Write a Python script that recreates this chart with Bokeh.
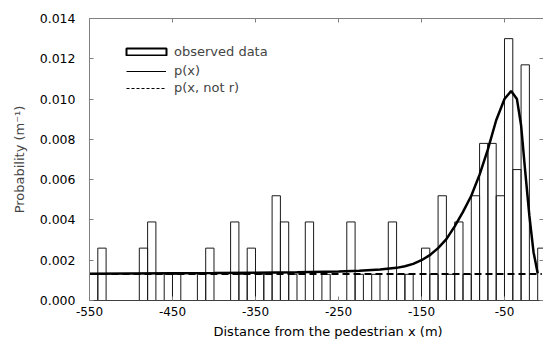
from bokeh.plotting import figure
from bokeh.models import (Legend, LegendItem, LinearAxis, FixedTicker,
                          PrintfTickFormatter, Range1d, ColumnDataSource, Title)
from bokeh.embed import file_html
from bokeh.resources import INLINE

# ---- data -----------------------------------------------------------
bin_width = 10
bin_left = list(range(-550, 0, bin_width))          # 55 bins of 10 m
observed = [0.0013, 0.0026, 0, 0, 0, 0, 0.0026, 0.0039, 0, 0.0013,
            0.0013, 0, 0, 0.0013, 0.0026, 0, 0, 0.0039, 0.0013, 0.0026,
            0.0013, 0.0013, 0.0052, 0.0039, 0.0013, 0, 0.0039, 0, 0.0013, 0,
            0, 0.0039, 0.0013, 0, 0.0013, 0, 0.0039, 0.0013, 0.0013, 0,
            0.0026, 0.0013, 0.0052, 0.0013, 0.0039, 0.0013, 0.0052, 0.0078, 0.0078, 0.0052,
            0.0130, 0.0065, 0.0117, 0, 0.0026]

px_x = [-550, -500, -450, -400, -350, -300, -250, -225, -200, -180, -170,
        -160, -150, -140, -130, -120, -110, -100, -90, -80, -70, -60,
        -50, -42, -35, -30, -25, -20, -15, -10]
px_y = [0.00133, 0.00134, 0.00135, 0.00136, 0.00138, 0.00140, 0.00144,
        0.00148, 0.00154, 0.00162, 0.00170, 0.00182, 0.00200, 0.00225,
        0.00260, 0.00305, 0.00368, 0.00440, 0.00520, 0.00625, 0.00750,
        0.00895, 0.01000, 0.01040, 0.01000, 0.00870, 0.00640, 0.00420,
        0.00240, 0.00135]

notr_x = [-550, -5]
notr_y = [0.00132, 0.00132]

x_ticks = [-550, -450, -350, -250, -150, -50]
y_ticks = [0.0, 0.002, 0.004, 0.006, 0.008, 0.010, 0.012, 0.014]

# ---- figure ---------------------------------------------------------
FONT = "DejaVu Sans"
GRAY = "#808080"
p = figure(width=543, height=345, x_range=Range1d(-550, -3),
           y_range=Range1d(0, 0.014), output_backend="svg",
           toolbar_location=None, min_border_left=89, min_border_top=18,
           min_border_right=0, min_border_bottom=45)
p.outline_line_color = None
p.xgrid.visible = False
p.ygrid.visible = False
p.background_fill_color = "white"

src = ColumnDataSource(dict(left=bin_left,
                            right=[b + bin_width for b in bin_left],
                            top=observed,
                            bottom=[0] * len(observed)))
p.quad(left="left", right="right", top="top", bottom="bottom", source=src,
       fill_color=None, line_color="#1a1a1a", line_width=1)

px_src = ColumnDataSource(dict(x=px_x, y=px_y))
notr_src = ColumnDataSource(dict(x=notr_x, y=notr_y))
p.line("x", "y", source=px_src, line_color="black", line_width=2.5)
p.line("x", "y", source=notr_src, line_color="black", line_width=2,
       line_dash="7 4")

# axes
xa = p.xaxis[0]
xa.ticker = FixedTicker(ticks=x_ticks)
xa.formatter = PrintfTickFormatter(format="%d")
xa.major_label_text_font = FONT
xa.major_label_text_font_size = "12px"
xa.major_label_standoff = 6
xa.major_tick_in = 4
xa.major_tick_out = 0
xa.minor_tick_in = 0
xa.minor_tick_out = 0
xa.axis_line_color = "#404040"
xa.major_tick_line_color = GRAY
xa.major_label_text_color = "black"

x_title = Title(text="Distance from the pedestrian x (m)", align="left",
                offset=124, text_font=FONT, text_font_size="13px",
                text_font_style="normal", text_color="black", standoff=7)
p.add_layout(x_title, "below")

ya = p.yaxis[0]
ya.ticker = FixedTicker(ticks=y_ticks)
ya.formatter = PrintfTickFormatter(format="%.3f")
ya.axis_label = "Probability (m\u207b\u00b9)"
ya.axis_label_text_font = FONT
ya.axis_label_text_font_size = "13px"
ya.axis_label_text_font_style = "normal"
ya.axis_label_standoff = 10
ya.major_label_text_font = FONT
ya.major_label_text_font_size = "12.5px"
ya.major_label_standoff = 14
ya.major_tick_in = 4
ya.major_tick_out = 0
ya.minor_tick_in = 0
ya.minor_tick_out = 0
ya.axis_line_color = GRAY
ya.major_tick_line_color = GRAY
ya.major_label_text_color = "black"

# top frame line with inward ticks (minor ticks only -> no labels)
top_axis = LinearAxis(ticker=FixedTicker(ticks=[], minor_ticks=x_ticks),
                      major_tick_in=0, major_tick_out=0,
                      minor_tick_in=4, minor_tick_out=0,
                      axis_line_color=GRAY, minor_tick_line_color=GRAY,
                      major_label_standoff=0)
p.add_layout(top_axis, "above")

# right side inward ticks (frame edge is cut off at the window edge)
right_axis = LinearAxis(ticker=FixedTicker(ticks=[], minor_ticks=y_ticks),
                        major_tick_in=0, major_tick_out=0,
                        minor_tick_in=4, minor_tick_out=0,
                        axis_line_color=None, minor_tick_line_color=GRAY,
                        major_label_standoff=0)
p.add_layout(right_axis, "right")

# legend-only renderers (hidden) so legend glyphs are thin like the original
box_r = p.quad(left="left", right="right", top="top", bottom="bottom",
               source=src, fill_color=None, line_color="black",
               line_width=2, visible=False)
line_r = p.line("x", "y", source=px_src, line_color="black", line_width=1,
                visible=False)
dash_r = p.line("x", "y", source=notr_src, line_color="black", line_width=1,
                line_dash="3 2", visible=False)

leg1 = Legend(items=[LegendItem(label="observed data", renderers=[box_r])],
              location=(32, 241), glyph_width=50, glyph_height=9,
              label_standoff=3, padding=0, margin=0, spacing=0,
              border_line_color=None, background_fill_alpha=0,
              label_text_font=FONT, label_text_font_size="13px",
              label_height=9)
leg2 = Legend(items=[LegendItem(label="p(x)", renderers=[line_r]),
                     LegendItem(label="p(x, not r)", renderers=[dash_r])],
              location=(37, 205), glyph_width=40, glyph_height=14,
              label_standoff=8, padding=0, margin=0, spacing=2,
              border_line_color=None, background_fill_alpha=0,
              label_text_font=FONT, label_text_font_size="13px",
              label_height=14)
p.add_layout(leg1)
p.add_layout(leg2)

open("out.html", "w").write(file_html(p, INLINE))
